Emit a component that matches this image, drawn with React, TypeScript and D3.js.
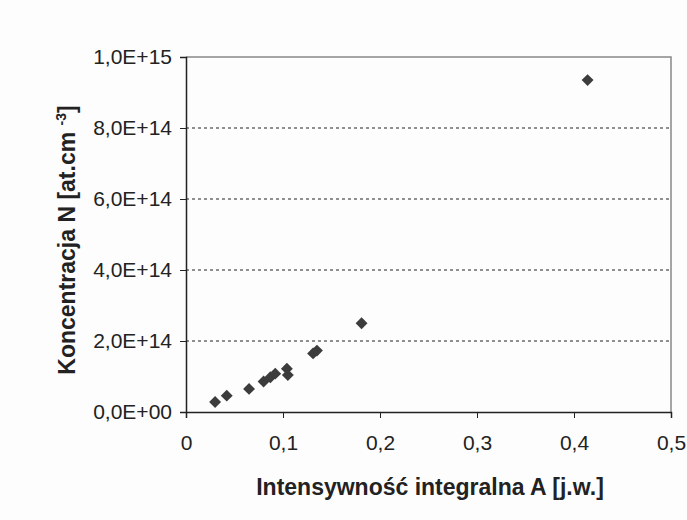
import React, { useEffect, useRef } from "react";
import * as d3 from "d3";

// values
const xValues = [0.03, 0.042, 0.065, 0.08, 0.087, 0.092, 0.104, 0.105, 0.131, 0.135, 0.181, 0.414];
const yValues = [2.8e13, 4.6e13, 6.5e13, 8.6e13, 9.8e13, 1.08e14, 1.22e14, 1.04e14, 1.65e14, 1.73e14, 2.5e14, 9.35e14];
const xTicks = [0, 0.1, 0.2, 0.3, 0.4, 0.5];
const yTicks = [0, 2e14, 4e14, 6e14, 8e14, 1e15];
const yTickLabels = ["0,0E+00", "2,0E+14", "4,0E+14", "6,0E+14", "8,0E+14", "1,0E+15"];

const W = 687;
const H = 520;
const left = 186, right = 671, top = 57, bottom = 412;

const App = () => {
  const ref = useRef<SVGSVGElement>(null);

  useEffect(() => {
    const svg = d3.select(ref.current);
    svg.selectAll("*").remove();
    const font = "'Liberation Sans', Arial, sans-serif";

    const x = d3.scaleLinear().domain([0, 0.5]).range([left, right]);
    const y = d3.scaleLinear().domain([0, 1e15]).range([bottom, top]);

    svg.append("rect").attr("width", W).attr("height", H).attr("fill", "#fdfdfd");

    // frame top/right
    svg.append("path")
      .attr("d", `M${left},${top}H${right}V${bottom}`)
      .attr("fill", "none").attr("stroke", "#888").attr("stroke-width", 1.5);

    // grid
    svg.selectAll("line.grid")
      .data(yTicks.filter(t => t > 0 && t < 1e15))
      .enter().append("line")
      .attr("x1", left).attr("x2", right)
      .attr("y1", d => y(d)).attr("y2", d => y(d))
      .attr("stroke", "#222").attr("stroke-width", 1)
      .attr("stroke-dasharray", "3,3");

    // y axis
    const yAxis = svg.append("g")
      .attr("transform", `translate(${left},0)`)
      .call(d3.axisLeft(y).tickValues(yTicks).tickSize(6)
        .tickFormat((d, i) => yTickLabels[i]));
    yAxis.select(".domain").attr("stroke", "#222").attr("stroke-width", 1.5);
    yAxis.selectAll(".tick line").attr("stroke", "#222");
    yAxis.selectAll("text").attr("font-family", font).attr("font-size", 21)
      .attr("fill", "#222").attr("x", -14);

    // x axis
    const xAxis = svg.append("g")
      .attr("transform", `translate(0,${bottom})`)
      .call(d3.axisBottom(x).tickValues(xTicks).tickSize(6)
        .tickFormat(d => String(d).replace(".", ",")));
    xAxis.select(".domain").attr("stroke", "#222").attr("stroke-width", 1.5);
    xAxis.selectAll(".tick line").attr("stroke", "#222");
    xAxis.selectAll("text").attr("font-family", font).attr("font-size", 21)
      .attr("fill", "#222").attr("y", 23);

    // points
    const sym = d3.symbol().type(d3.symbolDiamond2).size(90);
    svg.selectAll("path.pt")
      .data(xValues.map((v, i) => [v, yValues[i]]))
      .enter().append("path")
      .attr("d", sym)
      .attr("transform", d => `translate(${x(d[0])},${y(d[1])})`)
      .attr("fill", "#3c3c3c");

    // axis titles
    svg.append("text")
      .attr("x", 430).attr("y", 495)
      .attr("text-anchor", "middle")
      .attr("font-family", font).attr("font-size", 23).attr("font-weight", "bold")
      .attr("fill", "#222")
      .text("Intensywność integralna A [j.w.]");

    const yt = svg.append("text")
      .attr("transform", "translate(75,240) rotate(-90)")
      .attr("text-anchor", "middle")
      .attr("font-family", font).attr("font-size", 23).attr("font-weight", "bold")
      .attr("fill", "#222");
    yt.append("tspan").text("Koncentracja N [at.cm ");
    yt.append("tspan").attr("font-size", 14).attr("dy", -9).text("-3");
    yt.append("tspan").attr("dy", 9).text("]");
  }, []);

  return (
    <svg ref={ref} width={W} height={H}
      style={{ position: "absolute", left: 0, top: 0 }} />
  );
};

export default App;
